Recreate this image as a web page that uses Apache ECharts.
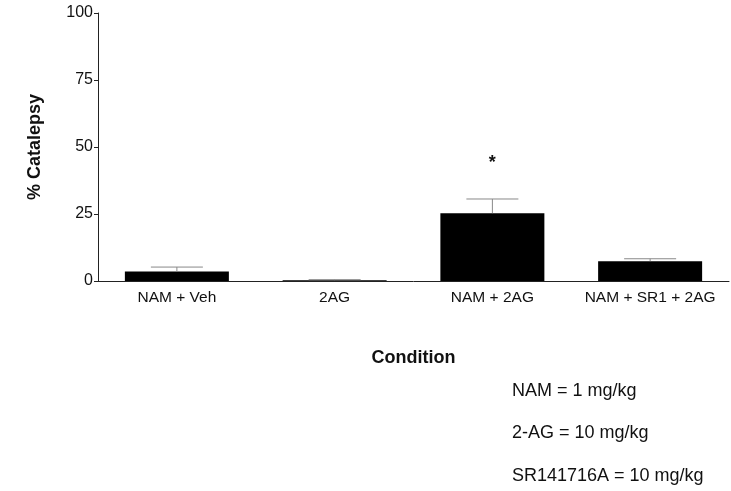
<!DOCTYPE html>
<html>
<head>
<meta charset="utf-8">
<script src="https://cdn.jsdelivr.net/npm/echarts@6/dist/echarts.min.js"></script>
<style>html,body{margin:0;padding:0;background:#fff}#c{width:731px;height:491px}</style>
</head>
<body>
<div id="c"></div>
<script>
const categories = ['NAM + Veh', '2AG', 'NAM + 2AG', 'NAM + SR1 + 2AG'];
const means = [3.5, 0.3, 25.3, 7.4];
const sem = [1.7, 0.2, 5.3, 0.9];
const sigMarks = ['', '', '*', ''];
const yTicks = [0, 25, 50, 75, 100];
const notes = ['NAM = 1 mg/kg', '2-AG = 10 mg/kg', 'SR141716A = 10 mg/kg'];

const chart = echarts.init(document.getElementById('c'));
const font = 'Liberation Sans, Arial, sans-serif';
const errData = categories.map((c, i) => [i, means[i], means[i] + sem[i], sigMarks[i]]);

chart.setOption({
  animation: false,
  backgroundColor: '#fff',
  grid: { left: 98, right: 2, top: 13, bottom: 210 },
  xAxis: {
    type: 'category',
    data: categories,
    name: 'Condition',
    nameLocation: 'middle',
    nameGap: 68,
    nameTextStyle: { fontFamily: font, fontSize: 18, fontWeight: 'bold', color: '#111' },
    axisLine: { lineStyle: { color: '#222', width: 1 } },
    axisTick: { show: false },
    axisLabel: { interval: 0, fontFamily: font, fontSize: 15.5, color: '#111', margin: 9 }
  },
  yAxis: {
    type: 'value',
    min: yTicks[0], max: yTicks[yTicks.length - 1], interval: 25,
    name: '% Catalepsy',
    nameLocation: 'middle',
    nameGap: 54,
    nameTextStyle: { fontFamily: font, fontSize: 18, fontWeight: 'bold', color: '#111' },
    axisLine: { show: true, lineStyle: { color: '#222', width: 1 } },
    axisTick: { show: true, length: 4, lineStyle: { color: '#222' } },
    axisLabel: { fontFamily: font, fontSize: 16, color: '#111', margin: 5 },
    splitLine: { show: false }
  },
  series: [
    {
      type: 'bar',
      data: means,
      barWidth: 104,
      itemStyle: { color: '#000' },
      z: 2
    },
    {
      type: 'custom',
      z: 3,
      data: errData,
      renderItem: function (params, api) {
        const x = api.value(0);
        const base = api.coord([x, api.value(1)]);
        const top = api.coord([x, api.value(2)]);
        const half = 26;
        const children = [
          { type: 'line', shape: { x1: base[0], y1: base[1], x2: top[0], y2: top[1] }, style: { stroke: '#888', lineWidth: 1 } },
          { type: 'line', shape: { x1: top[0] - half, y1: top[1], x2: top[0] + half, y2: top[1] }, style: { stroke: '#888', lineWidth: 1 } }
        ];
        const mark = api.value(3);
        if (mark) {
          children.push({ type: 'text', style: { text: mark, x: top[0], y: top[1] - 36, textAlign: 'center', textVerticalAlign: 'middle', font: 'bold 18px ' + font, fill: '#111' } });
        }
        return { type: 'group', children: children };
      }
    }
  ],
  graphic: notes.map((t, i) => ({
    type: 'text',
    left: 512,
    top: 382 + i * 42.5,
    style: { text: t, font: '18px ' + font, fill: '#111' }
  }))
});
</script>
</body>
</html>
